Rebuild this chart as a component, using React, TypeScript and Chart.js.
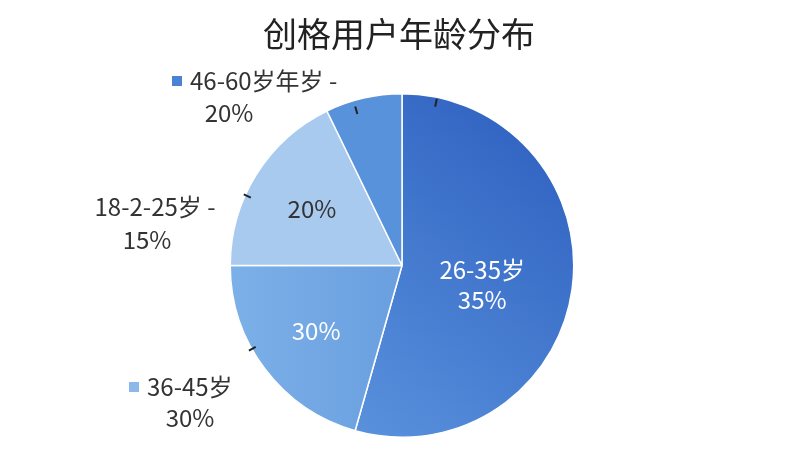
import React, { useEffect, useRef } from "react";
import { Chart, ArcElement, PieController } from "chart.js";

Chart.register(ArcElement, PieController);

const TITLE = "创格用户年龄分布";

// slices clockwise from 12 o'clock
const AGE_GROUPS = ["26-35岁", "36-45岁", "18-2-25岁", "46-60岁年岁"];
// share of the circle each slice takes in the picture (%)
const SLICE_SHARES = [54.4, 20.6, 17.8, 7.2];
// text printed inside the slices
const INNER_TEXT = [["26-35岁", "35%"], ["30%"], ["20%"], []];
// text printed outside the pie
const OUTER_TEXT = [
  ["46-60岁年岁 -", "20%"],
  ["18-2-25岁 -", "15%"],
  ["36-45岁", "30%"],
];

const FONT = '"Noto Sans CJK SC", "Noto Sans", sans-serif';

// where the inside labels sit: degrees clockwise from top, fraction of radius
const INNER_POS = [
  { angle: 103.4, dist: 0.48, color: "#ffffff" },
  { angle: 232.5, dist: 0.63, color: "#ffffff" },
  { angle: 302.3, dist: 0.62, color: "#333333" },
  { angle: 0, dist: 0, color: "#ffffff" },
];

// outside labels: line 1 / line 2 positions, optional legend square
const OUTER_POS = [
  { x1: 190, y1: 81, x2: 229, y2: 113, box: "#4a82d4", align: "left" },
  { x1: 155, y1: 207, x2: 147, y2: 240, box: null, align: "center" },
  { x1: 147, y1: 387, x2: 190, y2: 418, box: "#8cb9e9", align: "left" },
];

// little dark strokes on the rim
const RIM_MARKS = [
  { angle: 11.8, dist: 0.97 },
  { angle: 343.6, dist: 0.945 },
  { angle: 294.2, dist: 0.99 },
  { angle: 240.9, dist: 1.0 },
];

const polar = (cx: number, cy: number, r: number, deg: number, f: number) => {
  const a = ((deg - 90) * Math.PI) / 180;
  return { x: cx + Math.cos(a) * r * f, y: cy + Math.sin(a) * r * f };
};

const labelPlugin = {
  id: "ageLabels",
  afterDraw(chart: any) {
    const ctx = chart.ctx;
    const arc = chart.getDatasetMeta(0).data[0] as any;
    if (!arc) return;
    const { x: cx, y: cy, outerRadius: r } = arc;

    ctx.save();
    // title
    ctx.fillStyle = "#222222";
    ctx.font = `34px ${FONT}`;
    ctx.textAlign = "center";
    ctx.textBaseline = "middle";
    ctx.fillText(TITLE, 399, 34);

    // rim marks
    ctx.strokeStyle = "#222222";
    ctx.lineWidth = 2;
    RIM_MARKS.forEach((m) => {
      const a = polar(cx, cy, r, m.angle, m.dist - 0.025);
      const b = polar(cx, cy, r, m.angle, m.dist + 0.02);
      ctx.beginPath();
      ctx.moveTo(a.x, a.y);
      ctx.lineTo(b.x, b.y);
      ctx.stroke();
    });

    // inside labels
    ctx.font = `24px ${FONT}`;
    INNER_TEXT.forEach((lines, i) => {
      if (!lines.length) return;
      const p = INNER_POS[i];
      const c = polar(cx, cy, r, p.angle, p.dist);
      ctx.fillStyle = p.color;
      const lh = 30;
      const top = c.y - ((lines.length - 1) * lh) / 2;
      lines.forEach((t, j) => ctx.fillText(t, c.x, top + j * lh));
    });

    // outside labels
    OUTER_TEXT.forEach((lines, i) => {
      const p = OUTER_POS[i];
      ctx.fillStyle = "#333333";
      ctx.textAlign = p.align as CanvasTextAlign;
      ctx.fillText(lines[0], p.x1, p.y1);
      ctx.textAlign = "center";
      ctx.fillText(lines[1], p.x2, p.y2);
      if (p.box) {
        ctx.fillStyle = p.box;
        ctx.fillRect(p.x1 - 18, p.y1 - 5, 10, 10);
      }
    });
    ctx.restore();
  },
};

const sliceColor = (c: any) => {
  const chart = c.chart;
  const area = chart.chartArea;
  const i = c.dataIndex;
  if (!area) return ["#4479cf", "#72a7e3", "#a9caef", "#5892da"][i];
  const g = chart.ctx;
  const cx = (area.left + area.right) / 2;
  const cy = (area.top + area.bottom) / 2;
  const r = Math.min(area.width, area.height) / 2;
  if (i === 0) {
    const grad = g.createLinearGradient(cx - r * 0.3, cy + r, cx + r, cy - r * 0.6);
    grad.addColorStop(0, "#5a92dd");
    grad.addColorStop(1, "#3164c2");
    return grad;
  }
  if (i === 1) {
    const grad = g.createLinearGradient(cx - r, cy, cx, cy);
    grad.addColorStop(0, "#7bb0e8");
    grad.addColorStop(1, "#6a9fe0");
    return grad;
  }
  if (i === 2) return "#a9caef";
  return "#5892da";
};

const App = () => {
  const chartRef = useRef<HTMLCanvasElement>(null);

  useEffect(() => {
    if (!chartRef.current) return;
    const ctx = chartRef.current.getContext("2d");
    if (!ctx) return;

    const pie = new Chart(ctx, {
      type: "pie",
      data: {
        labels: AGE_GROUPS,
        datasets: [
          {
            data: SLICE_SHARES,
            backgroundColor: sliceColor,
            borderColor: "#ffffff",
            borderWidth: 1.5,
          },
        ],
      },
      options: {
        responsive: false,
        animation: false,
        layout: { padding: { top: 93, bottom: 12, left: 4, right: 0 } },
        plugins: {
          legend: { display: false },
          tooltip: { enabled: false },
        },
      },
      plugins: [labelPlugin],
    });

    return () => {
      pie.destroy();
    };
  }, []);

  return (
    <div style={{ position: "absolute", left: 0, top: 0, width: 800, height: 450, background: "#fff" }}>
      <canvas ref={chartRef} width="800" height="450"></canvas>
    </div>
  );
};

export default App;
